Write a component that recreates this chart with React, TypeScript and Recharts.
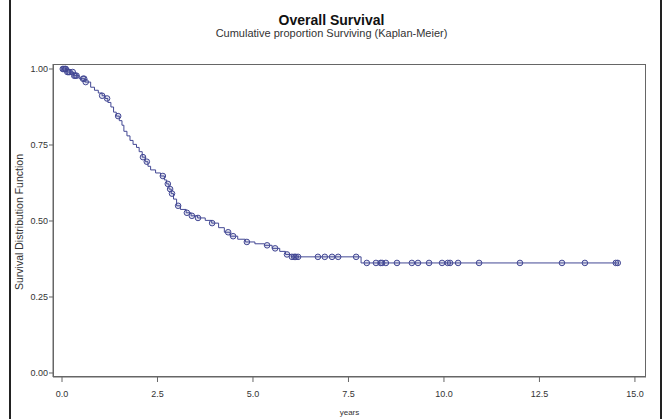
import { ComposedChart, Line, Scatter, XAxis, YAxis } from "recharts";

// Kaplan-Meier step function: event times (years) and survival after each step
const stepTimes = [
  0, 0.12, 0.3, 0.45, 0.6, 0.75, 0.85, 0.95, 1.05, 1.13, 1.2, 1.28, 1.35, 1.42,
  1.5, 1.57, 1.62, 1.7, 1.78, 1.86, 1.95, 2.02, 2.1, 2.18, 2.25, 2.32, 2.45,
  2.58, 2.68, 2.74, 2.8, 2.86, 2.92, 3.0, 3.1, 3.25, 3.38, 3.55, 3.75, 3.92,
  4.1, 4.25, 4.4, 4.6, 4.8, 5.05, 5.3, 5.5, 5.7, 5.85, 6.0, 7.83, 14.55,
];
const stepSurvival = [
  1.0, 0.99, 0.978, 0.968, 0.957, 0.94, 0.93, 0.921, 0.912, 0.903, 0.89, 0.875,
  0.858, 0.845, 0.83, 0.815, 0.795, 0.78, 0.765, 0.752, 0.742, 0.728, 0.71,
  0.695, 0.68, 0.668, 0.658, 0.648, 0.635, 0.622, 0.605, 0.59, 0.572, 0.55,
  0.538, 0.527, 0.517, 0.51, 0.502, 0.493, 0.478, 0.463, 0.45, 0.44, 0.431,
  0.425, 0.42, 0.41, 0.4, 0.39, 0.382, 0.362, 0.362,
];

// censored observations (years)
const censorTimes = [
  0.02, 0.05, 0.08, 0.1, 0.14, 0.17, 0.2, 0.28, 0.32, 0.35, 0.38, 0.55, 0.58,
  0.62, 1.05, 1.18, 1.47, 2.12, 2.22, 2.64, 2.77, 2.83, 2.88, 3.04, 3.27, 3.4,
  3.56, 3.93, 4.35, 4.48, 4.84, 5.37, 5.58, 5.89, 6.02, 6.08, 6.12, 6.18, 6.7,
  6.88, 7.07, 7.23, 7.7, 7.98, 8.22, 8.34, 8.38, 8.48, 8.77, 9.16, 9.32, 9.61,
  9.95, 10.1, 10.16, 10.37, 10.92, 11.99, 13.09, 13.69, 14.5, 14.55,
];

const xTicks = [0, 2.5, 5, 7.5, 10, 12.5, 15];
const yTicks = [0, 0.25, 0.5, 0.75, 1];

const curve = stepTimes.map((t, i) => ({ t, s: stepSurvival[i] }));

function survivalAt(t: number) {
  let s = stepSurvival[0];
  for (let i = 0; i < stepTimes.length; i++) {
    if (stepTimes[i] <= t) s = stepSurvival[i];
  }
  return s;
}

const censored = censorTimes.map((t) => ({ t, s: survivalAt(t) }));

const FONT = '"Liberation Sans", Arial, sans-serif';
const INK = "#434894";

const CensorMark = (props: any) => (
  <circle
    cx={props.cx}
    cy={props.cy}
    r={2.8}
    fill="rgba(60,64,150,0.15)"
    stroke={INK}
    strokeWidth={1}
  />
);

export default function App() {
  return (
    <div
      style={{
        position: "fixed",
        left: 0,
        top: 0,
        width: 663,
        height: 419,
        background: "#fff",
        fontFamily: FONT,
      }}
    >
      <div style={{ position: "absolute", left: 9, top: 0, width: 2, height: 419, background: "#222" }} />
      <div style={{ position: "absolute", left: 660, top: 0, width: 2, height: 419, background: "#222" }} />
      <div
        style={{
          position: "absolute",
          left: 0,
          width: 663,
          top: 12,
          textAlign: "center",
          fontSize: 14,
          fontWeight: "bold",
          color: "#111",
        }}
      >
        Overall Survival
      </div>
      <div
        style={{
          position: "absolute",
          left: 0,
          width: 663,
          top: 27,
          textAlign: "center",
          fontSize: 11,
          color: "#333",
        }}
      >
        Cumulative proportion Surviving (Kaplan-Meier)
      </div>
      <div
        style={{
          position: "absolute",
          left: 19 - 100,
          top: 222 - 7,
          width: 200,
          height: 14,
          lineHeight: "14px",
          textAlign: "center",
          fontSize: 10.5,
          color: "#333",
          transform: "rotate(-90deg)",
        }}
      >
        Survival Distribution Function
      </div>
      <div
        style={{
          position: "absolute",
          left: 53,
          top: 64,
          width: 593,
          height: 313,
          border: "1px solid #666",
          boxSizing: "border-box",
          pointerEvents: "none",
        }}
      />
      <div style={{ position: "absolute", left: 0, top: 0 }}>
        <ComposedChart
          width={663}
          height={419}
          margin={{ top: 64, right: 17, left: 0, bottom: 0 }}
        >
          <XAxis
            dataKey="t"
            type="number"
            domain={[-0.236, 15.29]}
            allowDataOverflow
            ticks={xTicks}
            tickFormatter={(v: number) => v.toFixed(1)}
            height={42}
            tickSize={5}
            tickMargin={9}
            stroke="#666"
            tick={{ fontSize: 9, fill: "#333", fontFamily: FONT }}
            label={{
              value: "years",
              position: "insideBottom",
              offset: 4,
              fontSize: 8,
              fill: "#333",
              fontFamily: FONT,
            }}
          />
          <YAxis
            dataKey="s"
            type="number"
            domain={[-0.0132, 1.0164]}
            allowDataOverflow
            ticks={yTicks}
            tickFormatter={(v: number) => v.toFixed(2)}
            width={53}
            tickSize={4}
            tickMargin={1}
            stroke="#666"
            tick={{ fontSize: 9, fill: "#333", fontFamily: FONT }}
          />
          <Line
            data={curve}
            dataKey="s"
            type="stepAfter"
            stroke={INK}
            strokeWidth={1}
            dot={false}
            isAnimationActive={false}
          />
          <Scatter
            data={censored}
            dataKey="s"
            shape={CensorMark}
            isAnimationActive={false}
          />
        </ComposedChart>
      </div>
    </div>
  );
}
